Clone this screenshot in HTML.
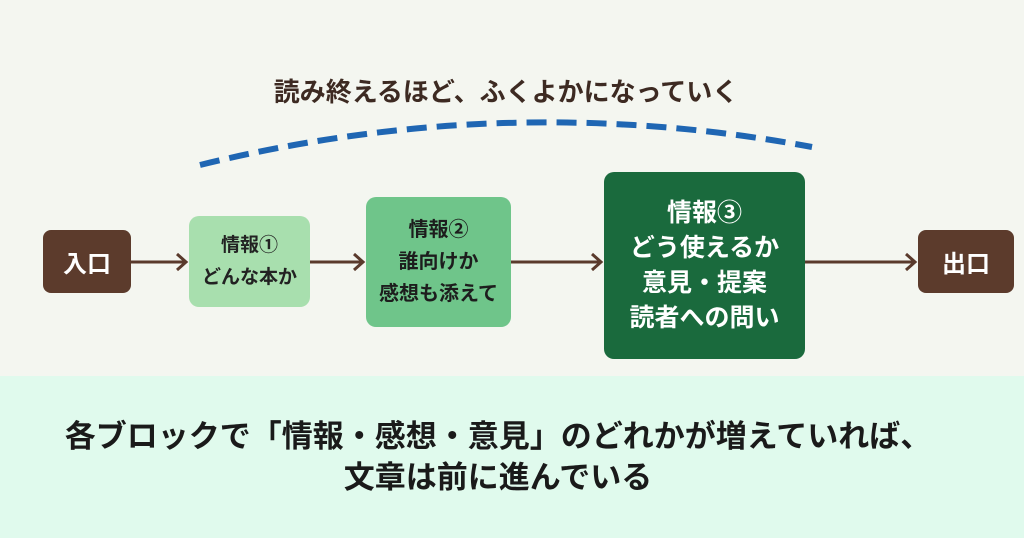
<!DOCTYPE html>
<html><head><meta charset="utf-8"><style>
html,body{margin:0;padding:0}
body{width:1024px;height:538px;background:#f4f6f0;position:relative;overflow:hidden;font-family:"Liberation Sans","Noto Sans CJK JP",sans-serif;font-weight:bold}
.b{position:absolute;display:flex;align-items:center;justify-content:center;text-align:center;border-radius:10px;box-sizing:border-box}
.title{position:absolute;left:0;width:1012px;top:73px;text-align:center;font-size:26px;color:#3d2a22;line-height:38px}
.band{position:absolute;left:0;top:376px;width:1024px;height:162px;background:#e0faed}
.bt{position:absolute;left:0;width:996px;text-align:center;font-size:31px;color:#1a1a1a;line-height:40px;white-space:nowrap}
</style></head><body>
<div class="title">読み終えるほど、ふくよかになっていく</div>
<svg style="position:absolute;left:0;top:0" width="1024" height="538">
<path d="M200 165 Q505 90 812 147" fill="none" stroke="#1f66b3" stroke-width="6" stroke-dasharray="20 10"/>
<g stroke="#5a3a2c" stroke-width="3" fill="none">
<line x1="131" y1="262" x2="186" y2="262"/><polyline points="177,254 186,262 177,270"/>
<line x1="310" y1="262" x2="363" y2="262"/><polyline points="354,254 363,262 354,270"/>
<line x1="511" y1="262" x2="601" y2="262"/><polyline points="592,254 601,262 592,270"/>
<line x1="805" y1="262" x2="915" y2="262"/><polyline points="906,254 915,262 906,270"/>
</g>
</svg>
<div class="b" style="left:43px;top:230px;width:88px;height:63px;background:#5c3b2c;color:#fff;font-size:24px;border-radius:8px">入口</div>
<div class="b" style="left:189px;top:216px;width:121px;height:91px;background:#a8dfae;color:#222;font-size:19px;line-height:32px">情報①<br>どんな本か</div>
<div class="b" style="left:366px;top:197px;width:145px;height:130px;background:#6fc58a;color:#1d1d1d;font-size:20px;line-height:32px">情報②<br>誰向けか<br>感想も添えて</div>
<div class="b" style="left:604px;top:172px;width:201px;height:187px;background:#1a6a3d;color:#fff;font-size:25px;line-height:35px">情報③<br>どう使えるか<br>意見・提案<br>読者への問い</div>
<div class="b" style="left:918px;top:230px;width:96px;height:63px;background:#5c3b2c;color:#fff;font-size:24px;border-radius:8px">出口</div>
<div class="band"></div>
<div class="bt" style="top:417px">各ブロックで「情報・感想・意見」のどれかが増えていれば、</div>
<div class="bt" style="top:458px">文章は前に進んでいる</div>
</body></html>
